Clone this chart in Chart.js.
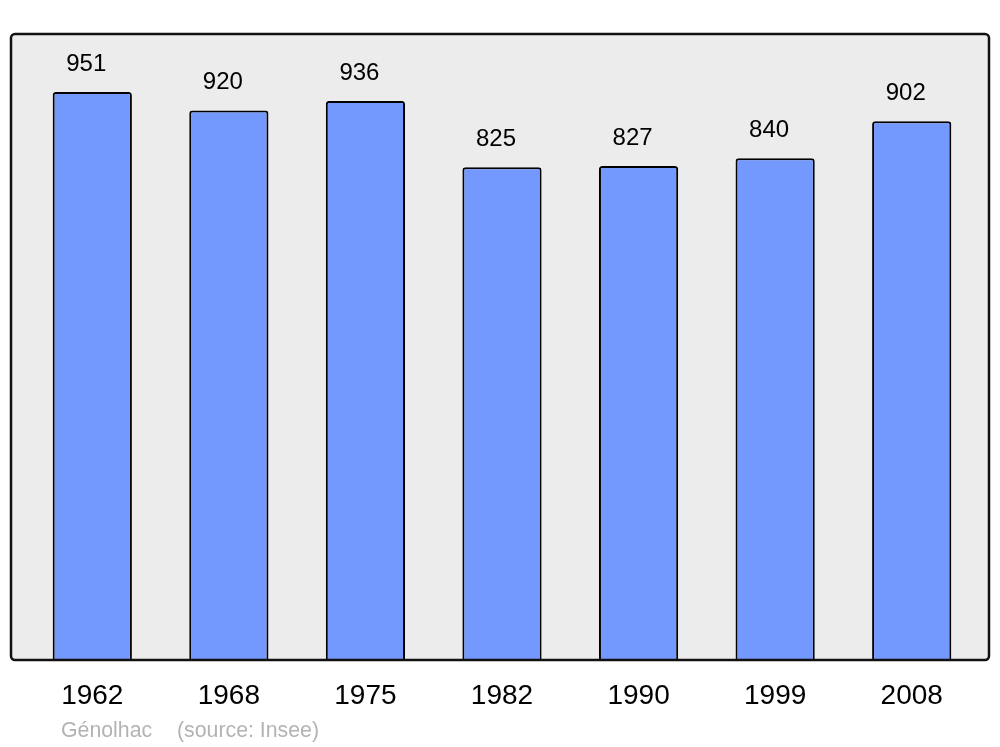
<!DOCTYPE html>
<html>
<head>
<meta charset="utf-8">
<script src="https://cdn.jsdelivr.net/npm/chart.js@4"></script>
<style>
html,body{margin:0;padding:0;background:#fff;}
#wrap{width:1000px;height:747px;position:relative;}
</style>
</head>
<body>
<div id="wrap"><canvas id="c" width="1000" height="747"></canvas></div>
<script>
const categories = ['1962','1968','1975','1982','1990','1999','2008'];
const population = [951, 920, 936, 825, 827, 840, 902];
const yMax = 1048;
const captionName = 'Génolhac';
const captionSource = '(source: Insee)';

const FONT = "'Liberation Sans', Arial, sans-serif";

const framePlugin = {
  id: 'frame',
  beforeDatasetsDraw(chart) {
    const ctx = chart.ctx, a = chart.chartArea;
    const x0 = a.left - 13, x1 = a.right + 9, y0 = a.top, y1 = a.bottom;
    ctx.save();
    ctx.beginPath();
    ctx.roundRect(x0, y0, x1 - x0, y1 - y0, 4);
    ctx.fillStyle = '#ececec';
    ctx.fill();
    ctx.restore();
  },
  afterDatasetsDraw(chart) {
    const ctx = chart.ctx, a = chart.chartArea;
    const x0 = a.left - 13, x1 = a.right + 9, y0 = a.top, y1 = a.bottom;
    ctx.save();
    ctx.beginPath();
    ctx.roundRect(x0, y0, x1 - x0, y1 - y0, 4);
    ctx.lineWidth = 2.5;
    ctx.strokeStyle = '#111';
    ctx.stroke();
    // value labels
    const meta = chart.getDatasetMeta(0);
    ctx.font = '24px ' + FONT;
    ctx.fillStyle = '#000';
    ctx.textAlign = 'center';
    ctx.textBaseline = 'middle';
    meta.data.forEach((bar, i) => {
      ctx.fillText(String(population[i]), bar.x - 6, bar.y - 28);
    });
    // caption
    ctx.font = '21.3px ' + FONT;
    ctx.fillStyle = '#b3b3b3';
    ctx.textAlign = 'left';
    ctx.fillText(captionName, 61, 731);
    ctx.fillText(captionSource, 177, 731);
    ctx.restore();
  }
};

new Chart(document.getElementById('c'), {
  type: 'bar',
  data: {
    labels: categories,
    datasets: [{
      data: population,
      backgroundColor: '#7399ff',
      borderColor: '#000',
      borderWidth: 2,
      borderRadius: 3,
      borderSkipped: 'start',
      barPercentage: 0.58,
      categoryPercentage: 1
    }]
  },
  options: {
    responsive: false,
    animation: false,
    devicePixelRatio: 1,
    layout: { padding: { left: 24, right: 20, top: 34, bottom: 15.4 } },
    plugins: { legend: { display: false }, tooltip: { enabled: false } },
    scales: {
      x: {
        grid: { display: false, drawTicks: false },
        border: { display: false },
        ticks: { color: '#000', font: { family: FONT, size: 28 }, padding: 19 }
      },
      y: {
        display: false,
        min: 0,
        max: yMax
      }
    }
  },
  plugins: [framePlugin]
});
</script>
</body>
</html>
